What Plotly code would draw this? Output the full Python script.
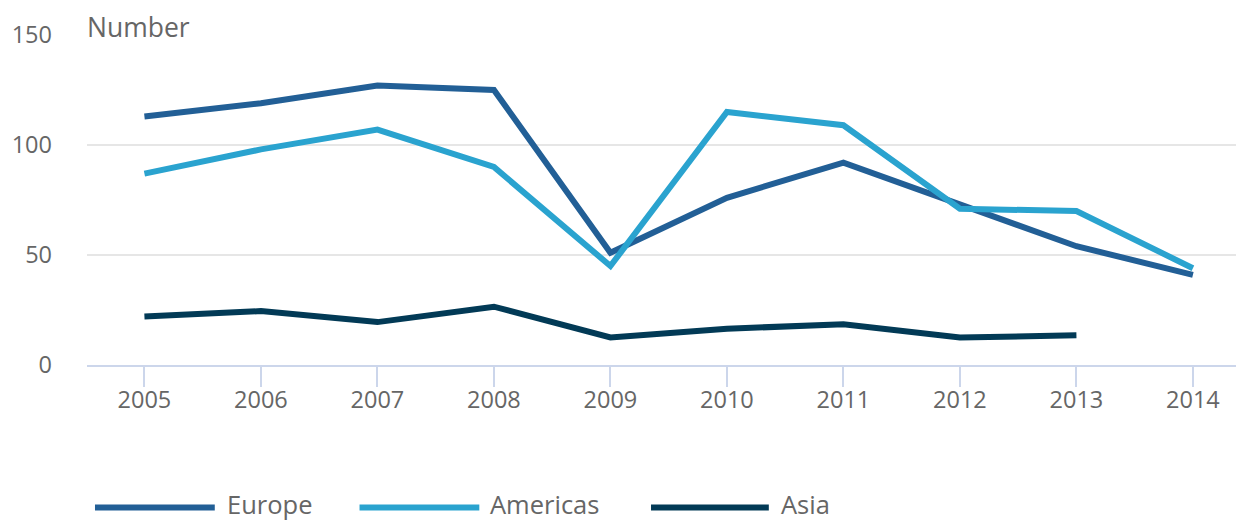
import plotly.graph_objects as go

years = [2005, 2006, 2007, 2008, 2009, 2010, 2011, 2012, 2013, 2014]
europe = [113, 119, 127, 125, 51, 76, 92, 73, 54, 41]
americas = [87, 98, 107, 90, 45, 115, 109, 71, 70, 44]
asia = [22, 24.5, 19.5, 26.5, 12.5, 16.5, 18.5, 12.5, 13.5, None]
series_names = ["Europe", "Americas", "Asia"]
colors = ["#225f96", "#2aa3cf", "#023a56"]
y_ticks = [0, 50, 100, 150]

OFF = 8  # page body margin
W, H = 1244 - OFF, 523 - OFF
L, R, T, B = 85 - OFF, 4, 35 - OFF, H - (364.7 - OFF)
PW, PH = W - L - R, H - T - B

fig = go.Figure()
for name, vals, col in zip(series_names, [europe, americas, asia], colors):
    fig.add_trace(go.Scatter(x=years, y=vals, mode="lines", name=name,
                             line=dict(color=col, width=6), connectgaps=False))

def px_x(p):
    return (p - OFF - L) / PW

def px_y(p):
    return (H - B - (p - OFF)) / PH

# manual legend
leg_y = 507
txt_y = 504
leg_items = [(93, 213, 224), (358, 478, 488), (650, 768, 779)]
for (x0, x1, tx), name, col in zip(leg_items, series_names, colors):
    fig.add_shape(type="line", xref="paper", yref="paper",
                  x0=px_x(x0), x1=px_x(x1), y0=px_y(leg_y), y1=px_y(leg_y),
                  line=dict(color=col, width=6))
    fig.add_annotation(xref="paper", yref="paper", x=px_x(tx), y=px_y(txt_y),
                       xanchor="left", yanchor="middle", text=name, showarrow=False,
                       borderpad=0,
                       font=dict(family="Open Sans", size=25.5, color="#666666"))

fig.add_annotation(xref="paper", yref="paper", x=px_x(84), y=px_y(OFF + 0.5),
                   xanchor="left", yanchor="top", text="Number", showarrow=False,
                   borderpad=0,
                   font=dict(family="Open Sans", size=26.5, color="#666666"))

fig.update_layout(
    width=W, height=H,
    margin=dict(l=L, r=R, t=T, b=B),
    paper_bgcolor="white", plot_bgcolor="white",
    showlegend=False,
    font=dict(family="Open Sans", color="#666666"),
    xaxis=dict(
        range=[2004.507, 2004.507 + PW / 116.7],
        tickvals=years, ticktext=[str(y) for y in years],
        showgrid=False, zeroline=False,
        showline=True, linecolor="#ccd6eb", linewidth=2,
        ticks="outside", ticklen=20, tickwidth=2, tickcolor="#ccd6eb",
        ticklabelstandoff=-7,
        tickfont=dict(family="Open Sans", size=23.5, color="#666666"),
    ),
    yaxis=dict(
        range=[0, 150], tickvals=y_ticks,
        showgrid=True, gridcolor="#e6e6e6", gridwidth=2,
        zeroline=False, showline=False, ticks="",
        ticklabelstandoff=34,
        tickfont=dict(family="Open Sans", size=23.5, color="#666666"),
    ),
)

fig.write_html("out.html")
